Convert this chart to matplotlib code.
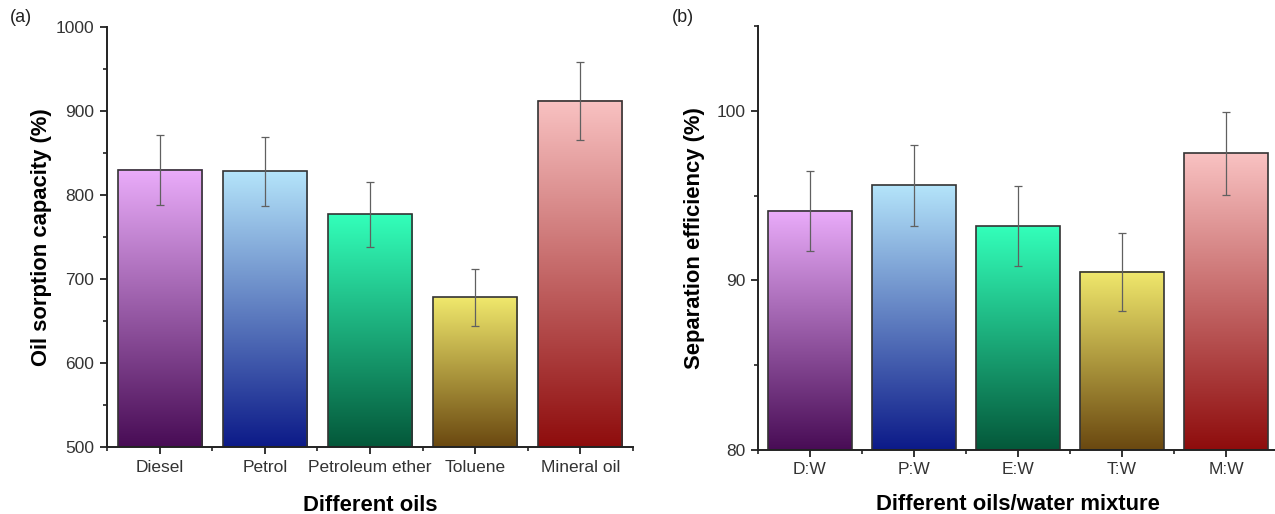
import numpy as np
import matplotlib
matplotlib.use("Agg")
import matplotlib.pyplot as plt
from matplotlib.colors import LinearSegmentedColormap
from matplotlib.ticker import MultipleLocator, FixedLocator

plt.rcParams['font.family'] = ['Liberation Sans', 'DejaVu Sans']

# Panel (a): oil sorption capacity
oils = ["Diesel", "Petrol", "Petroleum ether", "Toluene", "Mineral oil"]
sorption = [830, 828, 777, 678, 912]
sorption_err = [41.5, 41.5, 39, 34, 46]

# Panel (b): separation efficiency
mixtures = ["D:W", "P:W", "E:W", "T:W", "M:W"]
efficiency = [94.1, 95.6, 93.2, 90.5, 97.5]
efficiency_err = [2.35, 2.4, 2.35, 2.3, 2.45]

# Vertical gradient per bar: (top colour, bottom colour)
bar_gradients = [
    ("#EAACFA", "#480C55"),
    ("#B4E4FA", "#0C1A88"),
    ("#33FFBA", "#04583A"),
    ("#F0E86C", "#6A4810"),
    ("#F9C2C2", "#8E0C0C"),
]

fig = plt.figure(figsize=(12.75, 5.14), dpi=100)
ax_a = fig.add_axes([107 / 1275, 1 - 447 / 514, 526 / 1275, 420 / 514])
ax_b = fig.add_axes([758 / 1275, 1 - 450 / 514, 520 / 1275, 424 / 514])


def gradient_bars(ax, labels, values, errs, base, ylim, ylabel, xlabel,
                  major, minor, ypad, xpad):
    x = np.arange(1, len(labels) + 1)
    width = 0.8
    grad = np.linspace(0, 1, 256).reshape(-1, 1)
    for xi, v, (top, bot) in zip(x, values, bar_gradients):
        cmap = LinearSegmentedColormap.from_list("g", [bot, top])
        ax.imshow(grad, cmap=cmap, origin="lower", aspect="auto",
                  extent=[xi - width / 2, xi + width / 2, base, v],
                  zorder=1, interpolation="bilinear")
    ax.bar(x, np.array(values) - base, bottom=base, width=width,
           facecolor="none", edgecolor="#333333", linewidth=1.2, zorder=2)
    ax.errorbar(x, values, yerr=errs, fmt="none", ecolor="#606060",
                elinewidth=0.9, capsize=3, capthick=0.9, zorder=3)
    ax.set_xlim(0.5, len(labels) + 0.5)
    ax.set_ylim(*ylim)
    ax.set_xticks(x)
    ax.set_xticklabels(labels)
    ax.xaxis.set_minor_locator(FixedLocator(np.arange(0.5, len(labels) + 1, 1)))
    ax.yaxis.set_major_locator(MultipleLocator(major))
    ax.yaxis.set_minor_locator(MultipleLocator(minor))
    for side in ("top", "right"):
        ax.spines[side].set_visible(False)
    for side in ("left", "bottom"):
        ax.spines[side].set_linewidth(1.4)
        ax.spines[side].set_color("#222222")
    ax.tick_params(which="major", direction="out", length=5, width=1.3,
                   labelsize=12.5, colors="#222222", labelcolor="#333333",
                   pad=4)
    ax.tick_params(which="minor", direction="out", length=3, width=1.2,
                   colors="#222222")
    ax.set_ylabel(ylabel, fontsize=15.8, fontweight="bold", labelpad=ypad)
    ax.set_xlabel(xlabel, fontsize=15.8, fontweight="bold", labelpad=xpad)


gradient_bars(ax_a, oils, sorption, sorption_err, 500, (500, 1000),
              "Oil sorption capacity (%)", "Different oils", 100, 50, 3, 15)
gradient_bars(ax_b, mixtures, efficiency, efficiency_err, 80, (80, 105),
              "Separation efficiency (%)", "Different oils/water mixture",
              10, 5, 8, 12)

fig.text(10 / 1275, 1 - 18 / 514, "(a)", fontsize=13, va="center",
         color="#222222")
fig.text(672 / 1275, 1 - 18 / 514, "(b)", fontsize=13, va="center",
         color="#222222")

fig.savefig("out.png", dpi=100, facecolor="white")
